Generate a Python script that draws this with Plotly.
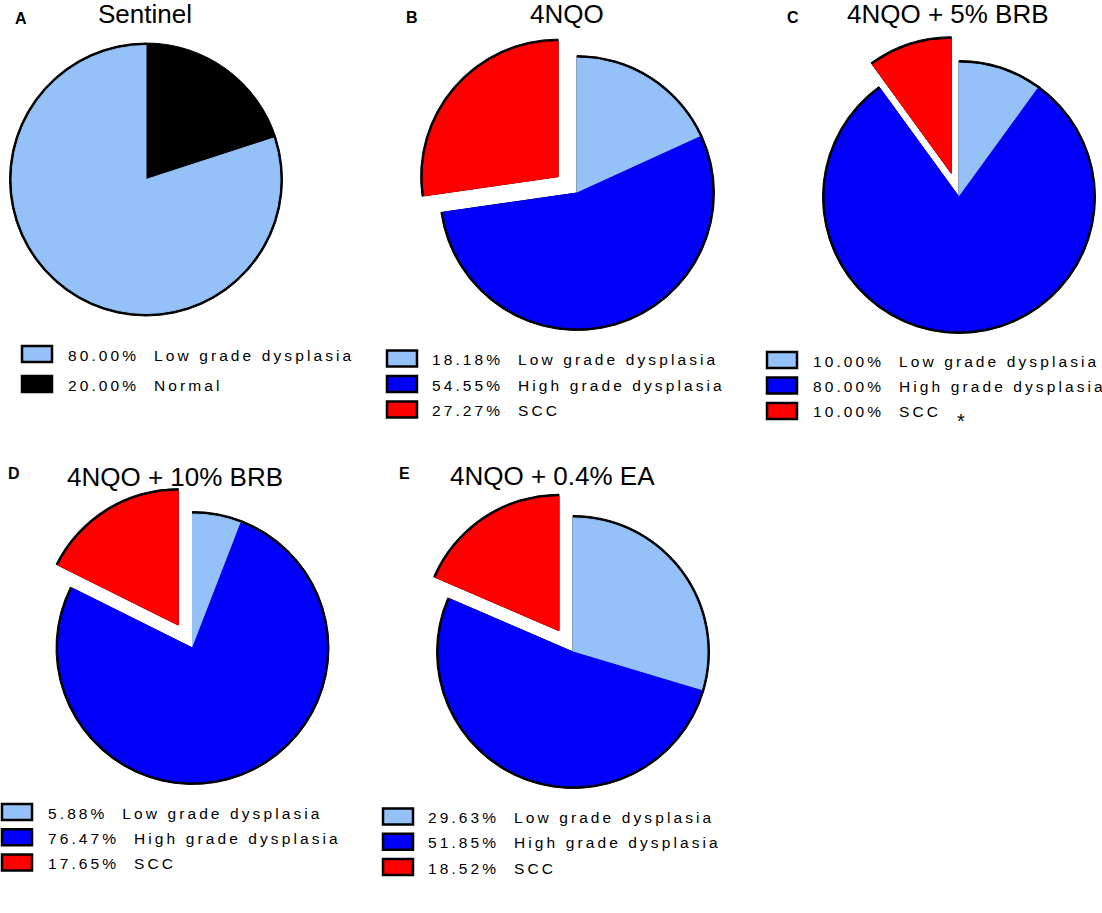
import math
import plotly.graph_objects as go

W, H = 1102, 913

# ---- data (percent of animals per lesion grade) ----
sentinel_labels = ["Low grade dysplasia", "Normal"]
sentinel_pct = [80.00, 20.00]

grade_labels = ["Low grade dysplasia", "High grade dysplasia", "SCC"]
nqo_pct = [18.18, 54.55, 27.27]
brb5_pct = [10.00, 80.00, 10.00]
brb10_pct = [5.88, 76.47, 17.65]
ea_pct = [29.63, 51.85, 18.52]

panel_titles = ["Sentinel", "4NQO", "4NQO + 5% BRB", "4NQO + 10% BRB", "4NQO + 0.4% EA"]
panel_letters = ["A", "B", "C", "D", "E"]

LIGHT = "#94C2F8"
BLUE = "#0000FA"
RED = "#FF0000"
BLACK = "#000000"
CLEAR = "rgba(0,0,0,0)"
FONT = "Liberation Sans, Arial, sans-serif"

# ---- panel geometry (pixels) ----
panels = [
    dict(labels=sentinel_labels, values=sentinel_pct, colors=[LIGHT, BLACK],
         cx=146, cy=179.5, r=134, explode=0, reverse=True,
         title=(145, 14), letter=(21, 19),
         legend=dict(sx=22, tx=68, y0=354, dy=30)),
    dict(labels=grade_labels, values=nqo_pct, colors=[LIGHT, BLUE, RED],
         cx=577, cy=193, r=135, explode=25, reverse=False,
         title=(567, 14), letter=(412, 17),
         legend=dict(sx=387, tx=432, y0=358.5, dy=25.5)),
    dict(labels=grade_labels, values=brb5_pct, colors=[LIGHT, BLUE, RED],
         cx=959, cy=197, r=134, explode=25, reverse=False,
         title=(948, 14), letter=(793, 17),
         legend=dict(sx=767, tx=813, y0=360, dy=25.5)),
    dict(labels=grade_labels, values=brb10_pct, colors=[LIGHT, BLUE, RED],
         cx=192.5, cy=648, r=134, explode=27, reverse=False,
         title=(175, 477), letter=(14, 473),
         legend=dict(sx=2, tx=48, y0=812, dy=25.3)),
    dict(labels=grade_labels, values=ea_pct, colors=[LIGHT, BLUE, RED],
         cx=573, cy=652, r=134, explode=25.5, reverse=False,
         title=(552, 476), letter=(404, 473),
         legend=dict(sx=383, tx=428, y0=816.5, dy=25.3)),
]

RIM = 2.5  # black outline on the outer arc only


def px(x):
    return x / W


def py(y):
    return 1 - y / H


def spaced(s):
    # wide letter spacing like the original legend typography
    return "\u2009".join(s)


def pie(values, labels, colors, cx, cy, r):
    return go.Pie(
        values=values, labels=labels, sort=False, direction="clockwise", rotation=0,
        marker=dict(colors=colors, line=dict(color=colors, width=1)),
        domain=dict(x=[px(cx - r), px(cx + r)], y=[py(cy + r), py(cy - r)]),
        textinfo="none", hoverinfo="label+value", showlegend=False,
    )


fig = go.Figure()
shapes = []
annotations = []

for i, p in enumerate(panels):
    vals, labs, cols = p["values"], p["labels"], p["colors"]
    n = len(vals)
    if p["reverse"]:
        pv, pl, pc = vals[::-1], labs[::-1], cols[::-1]
    else:
        pv, pl, pc = vals, labs, cols

    if p["explode"]:
        body = pc[:-1] + [CLEAR]
        piece = [CLEAR] * (n - 1) + [pc[-1]]
        # shift the last slice outward along its bisector
        start = sum(pv[:-1]) / sum(pv)
        theta = 2 * math.pi * (start + 1) / 2
        ox = p["explode"] * math.sin(theta)
        oy = -p["explode"] * math.cos(theta)
    else:
        body = pc
        piece = None

    rim_body = [BLACK if c != CLEAR else CLEAR for c in body]
    fig.add_trace(pie(pv, pl, rim_body, p["cx"], p["cy"], p["r"] + RIM))
    fig.add_trace(pie(pv, pl, body, p["cx"], p["cy"], p["r"]))
    if piece:
        rim_piece = [BLACK if c != CLEAR else CLEAR for c in piece]
        fig.add_trace(pie(pv, pl, rim_piece, p["cx"] + ox, p["cy"] + oy, p["r"] + RIM))
        fig.add_trace(pie(pv, pl, piece, p["cx"] + ox, p["cy"] + oy, p["r"]))

    # titles and panel letters
    tx, ty = p["title"]
    annotations.append(dict(
        x=px(tx), y=py(ty), xref="paper", yref="paper", text=panel_titles[i],
        showarrow=False, xanchor="center", yanchor="middle",
        font=dict(family=FONT, size=26, color="black")))
    lx, ly = p["letter"]
    annotations.append(dict(
        x=px(lx), y=py(ly), xref="paper", yref="paper", text="<b>%s</b>" % panel_letters[i],
        showarrow=False, xanchor="center", yanchor="middle",
        font=dict(family=FONT, size=16, color="black")))

    # legend: swatch + percent + label
    lg = p["legend"]
    for k in range(n):
        yc = lg["y0"] + k * lg["dy"]
        shapes.append(dict(
            type="rect", xref="paper", yref="paper",
            x0=px(lg["sx"]), x1=px(lg["sx"] + 30), y0=py(yc + 8), y1=py(yc - 8),
            fillcolor=cols[k], line=dict(color="black", width=2.5)))
        label = "%.2f%%  %s" % (vals[k], labs[k])
        annotations.append(dict(
            x=px(lg["tx"] - 2), y=py(yc + 1), xref="paper", yref="paper",
            text=spaced(label), showarrow=False, xanchor="left", yanchor="middle",
            font=dict(family=FONT, size=15.5, color="black")))

# significance mark next to SCC in panel C
annotations.append(dict(
    x=px(961), y=py(421), xref="paper", yref="paper", text="*", showarrow=False,
    xanchor="center", yanchor="middle",
    font=dict(family=FONT, size=20, color="black")))

fig.update_layout(
    width=W, height=H,
    margin=dict(l=0, r=0, t=0, b=0),
    paper_bgcolor="white", plot_bgcolor="white",
    shapes=shapes, annotations=annotations,
    showlegend=False,
)

# drop the page's default 8px body margin so the figure fills the window
fig.write_html("out.html", config={"displayModeBar": False},
               post_script="document.body.style.margin = '0';")
